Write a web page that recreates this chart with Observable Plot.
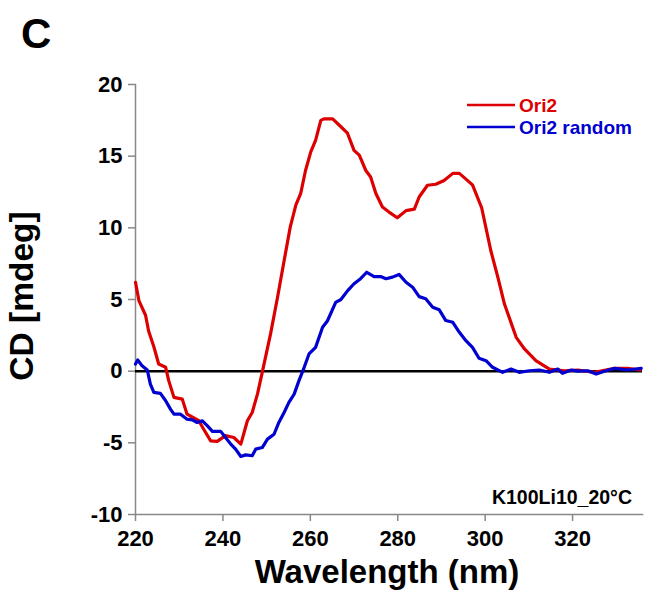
<!DOCTYPE html>
<html><head><meta charset="utf-8">
<script src="https://cdn.jsdelivr.net/npm/d3@7"></script>
<script src="https://cdn.jsdelivr.net/npm/@observablehq/plot@0.6"></script>
<style>body{margin:0;background:#fff}#chart{width:648px;height:604px}</style>
</head><body><div id="chart"></div>
<script>
const xTicks = [220, 240, 260, 280, 300, 320];
const yTicks = [-10, -5, 0, 5, 10, 15, 20];
const seriesNames = ["Ori2", "Ori2 random"];
const seriesColors = ["#dd0000", "#0000d0"];
const panelLabel = "C";
const xLabel = "Wavelength (nm)";
const yLabel = "CD [mdeg]";
const annotation = "K100Li10_20°C";

// [wavelength nm, CD mdeg]
const ori2 = [[220.0,6.2],[220.8,4.9],[222.3,3.9],[223.0,2.8],[224.2,1.7],[225.3,0.5],[226.9,0.27],[227.6,-0.66],[228.8,-1.83],[230.7,-1.95],[231.8,-3.0],[234.5,-3.46],[235.6,-4.05],[237.2,-4.86],[238.7,-4.9],[240.6,-4.5],[242.5,-4.63],[244.1,-5.09],[245.6,-3.46],[246.7,-2.88],[247.9,-1.6],[249.0,-0.08],[250.9,2.6],[252.5,5.16],[254.0,7.7],[255.4,10.05],[256.7,11.6],[257.8,12.4],[258.9,14.0],[260.1,15.3],[261.2,16.1],[262.4,17.5],[263.1,17.6],[265.1,17.6],[267.0,17.05],[268.5,16.6],[270.0,15.4],[271.2,15.07],[272.7,14.0],[273.8,13.55],[275.0,12.4],[276.5,11.45],[278.0,11.1],[279.9,10.7],[281.9,11.2],[283.8,11.3],[284.9,12.15],[286.8,12.97],[288.7,13.04],[290.6,13.3],[292.6,13.8],[294.1,13.8],[295.6,13.4],[297.1,13.0],[299.2,11.4],[301.3,8.4],[302.9,6.56],[304.4,4.7],[307.1,2.36],[309.0,1.55],[311.6,0.73],[314.7,0.15],[318.1,0.03],[321.2,0.08],[325.0,-0.08],[329.6,0.2],[332.6,0.2],[335.5,0.08]];
const ori2Random = [[220.0,0.5],[220.5,0.78],[221.5,0.38],[222.7,0.08],[223.4,-0.9],[224.2,-1.48],[225.7,-1.55],[226.9,-2.06],[228.0,-2.65],[228.8,-3.0],[230.3,-3.0],[231.8,-3.35],[233.0,-3.4],[234.1,-3.58],[235.3,-3.46],[236.4,-3.8],[237.6,-4.2],[239.5,-4.2],[240.6,-4.63],[241.8,-5.09],[242.9,-5.44],[244.1,-5.95],[245.2,-5.84],[246.7,-5.9],[247.5,-5.44],[249.0,-5.33],[250.2,-4.74],[251.7,-4.4],[252.8,-3.58],[254.0,-2.88],[255.1,-2.18],[256.3,-1.6],[257.4,-0.66],[258.6,0.27],[259.7,1.2],[261.2,1.66],[262.8,3.06],[263.9,3.5],[265.8,4.8],[267.0,5.0],[268.5,5.6],[270.0,6.1],[271.5,6.45],[272.9,6.9],[274.6,6.6],[276.1,6.6],[277.3,6.45],[278.8,6.56],[280.3,6.75],[281.9,6.2],[283.4,5.86],[284.9,5.2],[286.4,5.05],[288.0,4.46],[289.5,4.28],[291.0,3.53],[292.6,3.41],[294.1,2.71],[295.6,2.13],[297.1,1.66],[298.6,0.9],[300.2,0.73],[301.7,0.27],[304.0,-0.08],[305.9,0.15],[307.8,-0.08],[310.1,0.03],[312.4,0.08],[314.7,-0.08],[316.6,0.15],[317.7,-0.15],[319.7,0.08],[321.2,0],[323.5,0.03],[325.4,-0.2],[327.3,0],[329.6,0.2],[332.6,0.08],[335.7,0.2]];

const rows = [
  ...ori2.map(([nm, cd]) => ({nm, cd, s: seriesNames[0]})),
  ...ori2Random.map(([nm, cd]) => ({nm, cd, s: seriesNames[1]}))
];
const FONT = '"Liberation Sans", Arial, Helvetica, sans-serif';

const plot = Plot.plot({
  width: 648, height: 604,
  marginLeft: 135, marginRight: 6, marginTop: 84, marginBottom: 90,
  style: {fontFamily: FONT, fontWeight: "bold", background: "white", overflow: "visible"},
  x: {domain: [220, 336]},
  y: {domain: [-10, 20]},
  color: {domain: seriesNames, range: seriesColors},
  marks: [
    Plot.frame({anchor: "left", stroke: "#888", strokeWidth: 1.5}),
    Plot.frame({anchor: "bottom", stroke: "#888", strokeWidth: 1.5}),
    Plot.axisX({ticks: xTicks, tickSize: 7, tickPadding: 9, fontSize: 22, stroke: "#888", strokeWidth: 1.5, fill: "black", label: null, tickFormat: d => String(d)}),
    Plot.axisY({ticks: yTicks, tickSize: 7, tickPadding: 6, fontSize: 22, stroke: "#888", strokeWidth: 1.5, fill: "black", label: null, tickFormat: d => String(d)}),
    Plot.ruleY([0], {stroke: "black", strokeWidth: 2.5}),
    Plot.line(rows, {x: "nm", y: "cd", stroke: "s", z: "s", strokeWidth: 3.2, strokeLinejoin: "round"})
  ]
});
document.getElementById("chart").appendChild(plot);

const svg = d3.select(plot);
const addText = (x, y, size, anchor, fill, str, transform) => {
  const t = svg.append("text").attr("font-size", size).attr("font-weight", "bold")
    .attr("font-family", FONT).attr("fill", fill).attr("text-anchor", anchor).text(str);
  if (transform) t.attr("transform", transform); else t.attr("x", x).attr("y", y);
  return t;
};
addText(21, 48, 42, "start", "black", panelLabel);
addText(0, 0, 33.5, "middle", "black", yLabel, "translate(33,296) rotate(-90)");
addText(387, 583, 33, "middle", "black", xLabel);
addText(632, 504, 19.5, "end", "black", annotation);

const legendY = [105, 127];
seriesNames.forEach((name, i) => {
  svg.append("line").attr("x1", 467).attr("x2", 515).attr("y1", legendY[i]).attr("y2", legendY[i])
    .attr("stroke", seriesColors[i]).attr("stroke-width", 2.5);
  addText(519, legendY[i] + 7, 19, "start", seriesColors[i], name);
});
</script>
</body></html>
